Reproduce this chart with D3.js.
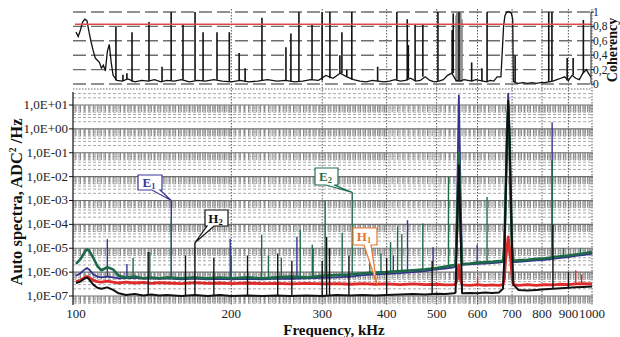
<!DOCTYPE html>
<html>
<head>
<meta charset="utf-8">
<script src="https://cdn.jsdelivr.net/npm/d3@7"></script>
<style>
  body { margin: 0; background: #fff; }
  svg { display: block; font-family: "Liberation Serif", "Times New Roman", serif; }
</style>
</head>
<body>
<div id="app"></div>
<script>
// frequency grid (kHz) shared by the four auto spectra
const freqGrid = [100, 102, 104, 105, 106, 108, 110, 112, 115, 118,
  121, 125, 130, 135, 140, 145, 150, 160, 170, 180,
  190, 200, 215, 230, 245, 260, 280, 300, 320, 340,
  360, 380, 400, 425, 450, 475, 500, 520, 540, 544,
  548, 552, 556, 560, 580, 600, 620, 640, 660, 672,
  676, 680, 684, 688, 692, 696, 700, 704, 720, 750,
  780, 810, 840, 870, 900, 930, 960, 1000];

const e1Vals = [7e-7, 9e-7, 1.3e-6, 1.5e-6, 1.3e-6, 8e-7, 6.5e-7, 6e-7, 6.5e-7, 6e-7,
  5.5e-7, 5.6e-7, 5.8e-7, 5.3e-7, 5.5e-7, 5.2e-7, 5.5e-7, 5e-7, 5.3e-7, 5e-7,
  5.2e-7, 5e-7, 5.2e-7, 5e-7, 5.3e-7, 5.2e-7, 5.5e-7, 5.8e-7, 6e-7, 6.5e-7,
  7.5e-7, 8e-7, 8.5e-7, 9e-7, 1e-6, 1.1e-6, 1.3e-6, 1.4e-6, 1.6e-6, 1.8e-6,
  2e-3, 25, 5e-3, 2e-6, 2.1e-6, 2.2e-6, 2.3e-6, 2.4e-6, 2.5e-6, 2.6e-6,
  5e-6, 1e-3, 0.5, 30, 0.8, 1e-3, 1e-5, 2.6e-6, 2.7e-6, 2.9e-6,
  3.1e-6, 3.3e-6, 3.6e-6, 4e-6, 4.3e-6, 4.8e-6, 5.2e-6, 6e-6];

const e2Vals = [2.2e-6, 3.5e-6, 7e-6, 9e-6, 8e-6, 4e-6, 1.8e-6, 1.2e-6, 1.6e-6, 1.3e-6,
  7e-7, 6e-7, 6.5e-7, 5.5e-7, 6e-7, 5.5e-7, 6e-7, 5.5e-7, 6e-7, 5.5e-7,
  6e-7, 5.5e-7, 6e-7, 5.5e-7, 6e-7, 6.5e-7, 6e-7, 7e-7, 7.5e-7, 8e-7,
  9e-7, 9.5e-7, 1e-6, 1.1e-6, 1.2e-6, 1.3e-6, 1.5e-6, 1.7e-6, 2e-6, 2.1e-6,
  1e-4, 0.1, 1e-4, 2.2e-6, 2.3e-6, 2.5e-6, 2.6e-6, 2.7e-6, 2.9e-6, 3e-6,
  8e-6, 1e-3, 0.2, 10, 0.3, 1e-3, 1e-5, 3e-6, 3.1e-6, 3.3e-6,
  3.6e-6, 3.8e-6, 4.2e-6, 4.6e-6, 5e-6, 5.5e-6, 6e-6, 7e-6];

const h1Vals = [4e-7, 4.5e-7, 6e-7, 6.5e-7, 6e-7, 4.5e-7, 4e-7, 3.8e-7, 4.2e-7, 3.8e-7,
  3.5e-7, 3.8e-7, 3.5e-7, 3.7e-7, 3.4e-7, 3.6e-7, 3.5e-7, 3.3e-7, 3.6e-7, 3.4e-7,
  3.5e-7, 3.3e-7, 3.5e-7, 3.3e-7, 3.4e-7, 3.2e-7, 3.4e-7, 3.2e-7, 3.3e-7, 3.1e-7,
  3.3e-7, 3.1e-7, 3.2e-7, 3e-7, 3.2e-7, 3e-7, 3.1e-7, 2.9e-7, 3e-7, 3.2e-7,
  5e-7, 2e-6, 5e-7, 2.9e-7, 2.8e-7, 3e-7, 2.8e-7, 2.9e-7, 2.8e-7, 3e-7,
  5e-7, 3e-6, 1e-5, 3e-5, 1e-5, 3e-6, 6e-7, 3e-7, 2.8e-7, 3e-7,
  2.8e-7, 3e-7, 2.9e-7, 3.1e-7, 3e-7, 3.2e-7, 3.3e-7, 3.2e-7];

const h2Vals = [3.5e-7, 4e-7, 5.5e-7, 6e-7, 5e-7, 3e-7, 2.2e-7, 2e-7, 2.3e-7, 1.8e-7,
  1.3e-7, 1.1e-7, 1.2e-7, 1.05e-7, 1.15e-7, 1.05e-7, 1.1e-7, 1e-7, 1.1e-7, 1e-7,
  1.1e-7, 1e-7, 1.05e-7, 1e-7, 1.05e-7, 1e-7, 1.05e-7, 1e-7, 1.1e-7, 1.05e-7,
  1.1e-7, 1.05e-7, 1.1e-7, 1.15e-7, 1.2e-7, 1.15e-7, 1.25e-7, 1.2e-7, 1.3e-7, 1.4e-7,
  1e-4, 3e-2, 1e-4, 1.3e-7, 1.35e-7, 1.3e-7, 1.4e-7, 1.35e-7, 1.4e-7, 2e-7,
  3e-6, 1e-3, 0.3, 15, 0.5, 2e-3, 1e-5, 3e-7, 1.8e-7, 1.7e-7,
  1.8e-7, 1.9e-7, 2e-7, 2.1e-7, 2.2e-7, 2.3e-7, 2.4e-7, 2.5e-7];

// narrow spectral lines [kHz, value]
const e1Spikes = [[115, 2.4e-5], [125.5, 2.2e-6], [153, 1e-3], [199, 2.5e-5], [268, 3e-5],
  [288, 1e-5], [412, 5e-6], [439, 1.5e-4], [492, 1.1e-5], [599, 1.4e-5], [837, 1.9], [935, 5e-6]];
const e2Spikes = [[129, 3.9e-6], [139, 7e-6], [153, 2e-4], [200, 5e-6], [229, 3.7e-5],
  [236, 5e-6], [250, 4e-6], [272, 5.8e-5], [287, 1.4e-5], [304, 1e-3], [328, 4.5e-5],
  [343, 2.2e-3], [371, 1e-5], [390, 6e-6], [407, 1.8e-5], [420, 8e-5], [428, 4e-5], [470, 1.1e-4],
  [527, 9.6e-3], [626, 1.4e-3], [837, 5e-2], [880, 1e-5], [950, 1e-5]];
const h1Spikes = [[200, 6e-7], [300, 5e-7], [600, 6e-7], [930, 1.2e-6], [955, 8e-7]];
const h2Spikes = [[138, 7e-6], [163, 5e-6], [170, 1.7e-5], [185, 4e-6], [215, 5e-6],
  [246, 6e-6], [262, 3e-6], [300, 3e-6], [306, 3e-5], [310, 1e-5], [338, 5e-6], [400, 4e-6],
  [490, 3e-6], [840, 1e-4], [900, 1e-6]];

// coherency
const cohFreq = [100, 101, 102, 103, 104, 105, 106, 107, 108, 109,
  110, 111, 112, 113, 114, 115, 116, 117, 118, 120,
  123, 126, 130, 134, 138, 142, 146, 150, 155, 160,
  166, 172, 178, 185, 192, 200, 208, 216, 225, 235,
  245, 255, 265, 275, 285, 295, 305, 315, 325, 335,
  345, 355, 365, 375, 385, 395, 405, 415, 425, 435,
  445, 455, 465, 475, 485, 495, 505, 515, 525, 535,
  545, 555, 565, 575, 585, 595, 605, 615, 625, 635,
  645, 655, 662, 666, 670, 674, 678, 684, 692, 698,
  702, 704, 710, 720, 735, 750, 765, 780, 795, 810,
  825, 840, 855, 870, 885, 900, 915, 930, 945, 960,
  975, 990, 1000];
const cohVals = [0.72, 0.66, 0.75, 0.86, 0.9, 0.88, 0.72, 0.58, 0.46, 0.36,
  0.33, 0.3, 0.22, 0.26, 0.18, 0.45, 0.55, 0.3, 0.12, 0.05,
  0.04, 0.07, 0.03, 0.05, 0.04, 0.06, 0.03, 0.05, 0.04, 0.06,
  0.03, 0.05, 0.04, 0.06, 0.04, 0.03, 0.05, 0.03, 0.04, 0.06,
  0.04, 0.05, 0.03, 0.04, 0.06, 0.05, 0.12, 0.08, 0.15, 0.1,
  0.06, 0.04, 0.03, 0.05, 0.04, 0.03, 0.04, 0.06, 0.04, 0.05,
  0.08, 0.04, 0.05, 0.1, 0.05, 0.03, 0.04, 0.06, 0.12, 0.15,
  0.05, 0.04, 0.06, 0.05, 0.04, 0.06, 0.05, 0.04, 0.03, 0.05,
  0.04, 0.1, 0.1, 0.1, 0.45, 0.8, 0.95, 1.0, 1.0, 0.98,
  0.9, 0.04, 0.02, 0.01, 0.02, 0.01, 0.02, 0.01, 0.02, 0.02,
  0.03, 0.04, 0.06, 0.08, 0.1, 0.05, 0.12, 0.08, 0.06, 0.15,
  0.2, 0.12, 0.08];
const cohSpikes = [[119.5, 0.79], [123.3, 0.13], [125.5, 0.15], [128.4, 0.72], [138.5, 0.86],
  [146.8, 0.24], [152.9, 1.0], [161.2, 0.82], [170.1, 1.0], [176.3, 0.72], [187.6, 0.72],
  [198.2, 0.72], [207.1, 0.43], [212.7, 0.22], [229.3, 0.92], [255.2, 0.51], [260.9, 0.7],
  [270.4, 1.0], [286.7, 0.82], [299.9, 1.0], [310.5, 1.0], [324.6, 0.4], [327.6, 0.72],
  [334.8, 0.2], [342.4, 1.0], [384.2, 0.24], [418.6, 1.0], [438.5, 0.9], [440.6, 0.54],
  [454.1, 0.82], [470.1, 0.82], [502.8, 1.0], [535.8, 0.75], [538.3, 0.98],
  [552.3, 1.0], [584.5, 0.3], [611.9, 0.22],
  [626.1, 1.0], [709.6, 0.4], [824.5, 1.0], [836.3, 1.0], [895.1, 0.36], [919.3, 0.36],
  [962.2, 0.89]];
// the grey shaded cluster round 550 kHz
const cohBand = [[545, 0.95], [547, 1.0], [549, 1.0], [555, 1.0], [557, 1.0], [560, 0.9]];
const cohThreshold = 0.83;

// ticks
const xTicks = [100, 200, 300, 400, 500, 600, 700, 800, 900, 1000];
const specTicks = [1e1, 1e0, 1e-1, 1e-2, 1e-3, 1e-4, 1e-5, 1e-6, 1e-7];
const specTickLabels = ['1,0E+01', '1,0E+00', '1,0E-01', '1,0E-02', '1,0E-03',
  '1,0E-04', '1,0E-05', '1,0E-06', '1,0E-07'];
const cohTicks = [0, 0.2, 0.4, 0.6, 0.8, 1];
const cohTickLabels = ['0', '0,2', '0,4', '0,6', '0,8', '1'];

const W = 620, H = 337;
const specTop = 92, specBottom = 305, left = 73, right = 593;

const x = d3.scaleLog().domain([100, 1000]).range([76, 592]);
const yS = d3.scaleLog().domain([1e-7, 1e1]).range([296, 105]);
const yC = d3.scaleLinear().domain([0, 1]).range([84, 12]);

const svg = d3.select('#app').append('svg')
  .attr('width', W).attr('height', H);

const defs = svg.append('defs');
defs.append('clipPath').attr('id', 'clipS').append('rect')
  .attr('x', left).attr('y', specTop).attr('width', right - left + 1).attr('height', specBottom - specTop);
defs.append('clipPath').attr('id', 'clipC').append('rect')
  .attr('x', left).attr('y', 8).attr('width', 591 - left).attr('height', 80);

// ---------- grid, lower panel ----------
const grid = svg.append('g').attr('clip-path', 'url(#clipS)');
const minorY = [];
for (let k = -8; k <= 1; k++) for (let m = 2; m <= 9; m++) minorY.push(m * Math.pow(10, k));
grid.selectAll('.minY').data(minorY.filter(v => yS(v) > specTop && yS(v) < specBottom))
  .enter().append('line')
  .attr('x1', left).attr('x2', right)
  .attr('y1', d => yS(d)).attr('y2', d => yS(d))
  .attr('stroke', '#9e9e9e').attr('stroke-width', 0.9).attr('stroke-dasharray', '3,2');

// dense minor frequency lines, drawn as short combs under each decade line
const minorF = d3.range(100, 200, 2).concat(d3.range(200, 400, 4), d3.range(400, 1001, 10));
const combs = [];
specTicks.forEach(v => minorF.forEach(f => combs.push([f, v])));
grid.selectAll('.comb').data(combs).enter().append('line')
  .attr('x1', d => x(d[0])).attr('x2', d => x(d[0]))
  .attr('y1', d => yS(d[1])).attr('y2', d => yS(d[1] * 0.5))
  .attr('stroke', '#808080').attr('stroke-width', 0.9);

grid.selectAll('.majY').data(specTicks).enter().append('line')
  .attr('x1', left).attr('x2', right)
  .attr('y1', d => yS(d)).attr('y2', d => yS(d))
  .attr('stroke', '#6e6e6e').attr('stroke-width', 1.1);

// vertical dotted lines through both panels
svg.selectAll('.majX').data(xTicks.slice(1)).enter().append('line')
  .attr('x1', d => x(d)).attr('x2', d => x(d))
  .attr('y1', 9).attr('y2', specBottom)
  .attr('stroke', '#555').attr('stroke-width', 1).attr('stroke-dasharray', '1.5,1.5');

// ---------- coherency panel ----------
svg.selectAll('.cohGrid').data(cohTicks).enter().append('line')
  .attr('x1', left).attr('x2', 591)
  .attr('y1', d => yC(d)).attr('y2', d => yC(d))
  .attr('stroke', '#6e6e6e').attr('stroke-width', 1.4).attr('stroke-dasharray', '13,5');

svg.append('line')
  .attr('x1', left).attr('x2', 591).attr('y1', 89).attr('y2', 89)
  .attr('stroke', '#666').attr('stroke-width', 1).attr('stroke-dasharray', '1.5,1.5');

const cohG = svg.append('g').attr('clip-path', 'url(#clipC)');
cohG.selectAll('.cb').data(cohBand).enter().append('line')
  .attr('x1', d => x(d[0])).attr('x2', d => x(d[0]))
  .attr('y1', yC(0.03)).attr('y2', d => yC(d[1]))
  .attr('stroke', '#8c8c8c').attr('stroke-width', 1.6);
const cohData = cohFreq.map((f, i) => [f, cohVals[i]]);
cohG.append('path').datum(cohData)
  .attr('fill', 'none').attr('stroke', '#111').attr('stroke-width', 1.3)
  .attr('d', d3.line().x(d => x(d[0])).y(d => yC(d[1])));
cohG.selectAll('.cs').data(cohSpikes).enter().append('line')
  .attr('x1', d => x(d[0])).attr('x2', d => x(d[0]))
  .attr('y1', d => yC(cohVals[d3.bisectCenter(cohFreq, d[0])]))
  .attr('y2', d => yC(d[1]))
  .attr('stroke', '#111').attr('stroke-width', 1.6);

svg.append('line')
  .attr('x1', 75).attr('x2', 591)
  .attr('y1', yC(cohThreshold)).attr('y2', yC(cohThreshold))
  .attr('stroke', '#e04848').attr('stroke-width', 1.6);

// right axis
const cohAxis = svg.append('g');
cohAxis.append('line').attr('x1', 591).attr('x2', 591)
  .attr('y1', yC(0)).attr('y2', yC(1)).attr('stroke', '#222');
cohAxis.selectAll('.ct').data(cohTicks).enter().append('line')
  .attr('x1', 591).attr('x2', 594).attr('y1', d => yC(d)).attr('y2', d => yC(d))
  .attr('stroke', '#222');
cohAxis.selectAll('.cl').data(cohTicks).enter().append('text')
  .attr('x', 593).attr('y', d => yC(d)).attr('dy', '0.35em')
  .attr('font-size', 11.5).attr('fill', '#222')
  .text((d, i) => cohTickLabels[i]);

svg.append('text')
  .attr('transform', 'translate(617,50) rotate(-90)')
  .attr('text-anchor', 'middle').attr('font-size', 14).attr('font-weight', 'bold')
  .attr('fill', '#111').text('Coherency');

// ---------- spectra ----------
const series = [
  { vals: e1Vals, spikes: e1Spikes, color: '#34348e', w: 1.8 },
  { vals: h1Vals, spikes: h1Spikes, color: '#e02a2a', w: 2.8 },
  { vals: e2Vals, spikes: e2Spikes, color: '#1d6a48', w: 2.6 },
  { vals: h2Vals, spikes: h2Spikes, color: '#111111', w: 2 }
];
const specLine = d3.line().x(d => x(d[0])).y(d => yS(d[1]));
const specG = svg.append('g').attr('clip-path', 'url(#clipS)');
series.forEach(s => {
  const g = specG.append('g');
  g.append('path').datum(freqGrid.map((f, i) => [f, s.vals[i]]))
    .attr('fill', 'none').attr('stroke', s.color).attr('stroke-width', s.w)
    .attr('stroke-linejoin', 'round')
    .attr('d', specLine);
  g.selectAll('line').data(s.spikes).enter().append('line')
    .attr('x1', d => x(d[0])).attr('x2', d => x(d[0]))
    .attr('y1', d => yS(s.vals[d3.bisectCenter(freqGrid, d[0])]))
    .attr('y2', d => yS(d[1]))
    .attr('stroke', s.color).attr('stroke-width', 1.4);
});

// ---------- axes ----------
svg.append('line').attr('x1', left).attr('x2', left)
  .attr('y1', specTop).attr('y2', specBottom).attr('stroke', '#111').attr('stroke-width', 1.2);
svg.selectAll('.yt').data(specTicks).enter().append('line')
  .attr('x1', left - 4).attr('x2', left).attr('y1', d => yS(d)).attr('y2', d => yS(d))
  .attr('stroke', '#111');
svg.selectAll('.yl').data(specTicks).enter().append('text')
  .attr('x', 68).attr('y', d => yS(d)).attr('dy', '0.3em')
  .attr('text-anchor', 'end').attr('font-size', 13).attr('fill', '#222')
  .text((d, i) => specTickLabels[i]);

svg.selectAll('.xl').data(xTicks).enter().append('text')
  .attr('x', d => x(d)).attr('y', 318)
  .attr('text-anchor', 'middle').attr('font-size', 13).attr('fill', '#222')
  .text(d => d);

svg.append('text')
  .attr('x', 334).attr('y', 335).attr('text-anchor', 'middle')
  .attr('font-size', 15).attr('font-weight', 'bold').attr('fill', '#111')
  .text('Frequency, kHz');

const yTitle = svg.append('text')
  .attr('transform', 'translate(22,202) rotate(-90)')
  .attr('text-anchor', 'middle').attr('font-size', 16.5).attr('font-weight', 'bold')
  .attr('fill', '#111');
yTitle.append('tspan').text('Auto spectra, ADC');
yTitle.append('tspan').attr('font-size', 9.5).attr('dy', -6).text('2');
yTitle.append('tspan').attr('dy', 6).text(' /Hz');

// ---------- callouts ----------
const callouts = [
  { name: 'E', sub: '1', f: 153, v: 1e-3, box: [138, 175, 24, 15], tail: [152, 160], color: '#3a3a96' },
  { name: 'E', sub: '2', f: 343, v: 2.2e-3, box: [315, 168, 23, 17], tail: [326, 334], color: '#1f7050' },
  { name: 'H', sub: '2', f: 170, v: 1.7e-5, box: [205, 210, 23, 16], tail: [207, 214], color: '#111' },
  { name: 'H', sub: '1', f: 383, v: 3.1e-7, box: [353, 228, 24, 17], tail: [364, 371], color: '#e8742a' }
];
callouts.forEach(c => {
  const [bx, by, bw, bh] = c.box;
  const tx = x(c.f), ty = yS(c.v);
  const p = d3.path();
  p.moveTo(bx, by);
  p.lineTo(bx + bw, by);
  p.lineTo(bx + bw, by + bh);
  p.lineTo(c.tail[1], by + bh);
  p.lineTo(tx, ty);
  p.lineTo(c.tail[0], by + bh);
  p.lineTo(bx, by + bh);
  p.closePath();
  svg.append('path').attr('d', p.toString())
    .attr('fill', '#fff').attr('stroke', c.color).attr('stroke-width', 1.2);
  const t = svg.append('text')
    .attr('x', bx + bw / 2 - 1).attr('y', by + bh / 2 + 4.5)
    .attr('text-anchor', 'middle').attr('font-size', 13).attr('font-weight', 'bold')
    .attr('fill', c.color);
  t.append('tspan').text(c.name);
  t.append('tspan').attr('font-size', 8.5).attr('dy', 2).text(c.sub);
});
</script>
</body>
</html>
